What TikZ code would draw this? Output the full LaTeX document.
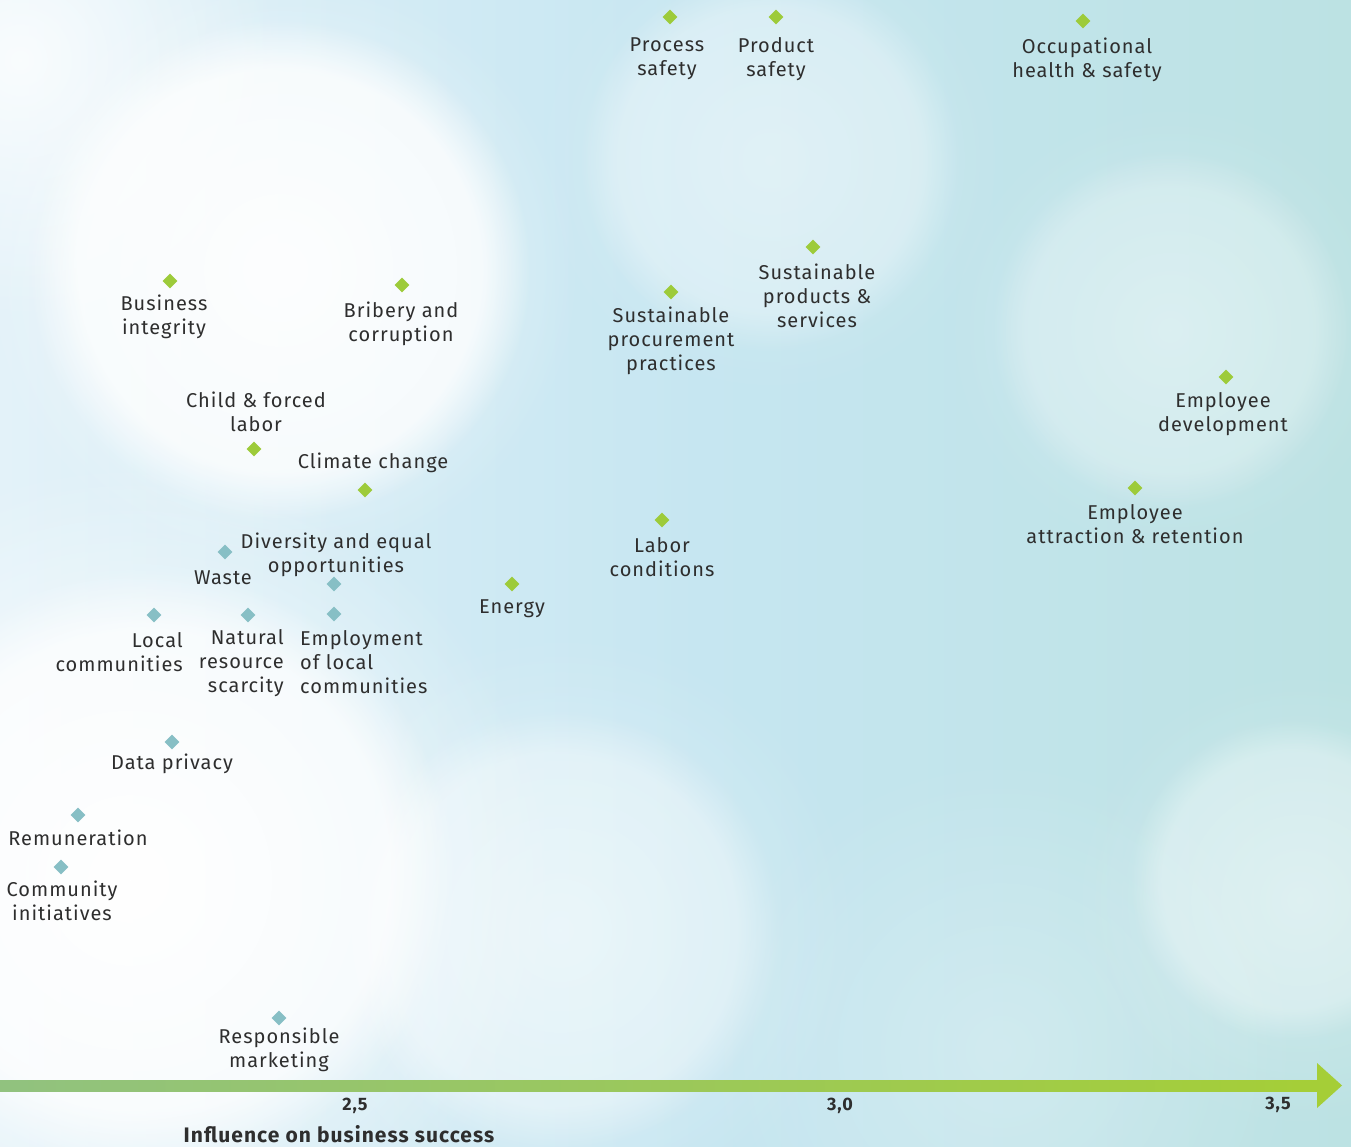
\documentclass[tikz,border=0pt]{standalone}
\usepackage{fontspec}
\setmainfont{Fira Sans}[LetterSpace=5]
\usetikzlibrary{shapes.geometric,fadings}
\definecolor{txt}{HTML}{2E2E2E}
\definecolor{gmk}{HTML}{9DCB3A}
\definecolor{bmk}{HTML}{87BFC5}
\definecolor{axL}{HTML}{91C27F}
\definecolor{axR}{HTML}{A5CE37}
\definecolor{bgL}{HTML}{E3F2F9}
\definecolor{bgM}{HTML}{C6E6F1}
\definecolor{bgR}{HTML}{BCE2E3}
\tikzfading[name=softc, inner color=transparent!0, outer color=transparent!100]
\tikzset{
  lbl/.style={font=\fontsize{20}{24}\selectfont, text=txt, align=center, inner sep=0pt},
  gd/.style={shape=diamond, fill=gmk, minimum width=15pt, minimum height=15pt, inner sep=0pt},
  bd/.style={shape=diamond, fill=bmk, minimum width=15pt, minimum height=15pt, inner sep=0pt},
  tick/.style={font=\bfseries\fontsize{18}{20}\selectfont, text=txt, inner sep=0pt},
  blob/.style={fill=white, path fading=softc},
  disc/.style={fill=white, path fading=circle with fuzzy edge 20 percent}
}
\begin{document}
\begin{tikzpicture}[x=1pt,y=-1pt]
\useasboundingbox (0,0) rectangle (1351,1146);
% background
\shade[left color=bgL, right color=bgM] (0,0) rectangle (700,1146);
\shade[left color=bgM, right color=bgR] (700,0) rectangle (1351,1146);
\fill[blob, opacity=0.8] (20,60) circle (260);
\fill[disc, opacity=0.75] (280,270) circle (250);
\fill[blob, opacity=0.8] (280,270) circle (300);
\fill[disc, opacity=0.7] (150,870) circle (300);
\fill[blob, opacity=1] (130,880) circle (420);
\fill[disc, opacity=0.3] (770,160) circle (190);
\fill[blob, opacity=0.25] (770,160) circle (240);
\fill[disc, opacity=0.25] (1170,330) circle (180);
\fill[blob, opacity=0.25] (1170,330) circle (230);
\fill[disc, opacity=0.35] (560,930) circle (220);
\fill[blob, opacity=0.4] (560,930) circle (300);
\fill[blob, opacity=0.25] (1000,1050) circle (300);
\fill[disc, opacity=0.3] (1290,880) circle (160);
\fill[blob, opacity=0.3] (1300,900) circle (230);
% markers and labels
\node[gd] (m1) at (670,17) {};
\node[lbl] (t1) at (667,59) {Process\\safety};
\node[gd] (m2) at (776,17) {};
\node[lbl] (t2) at (776,59) {Product\\safety};
\node[gd] (m3) at (1083,21) {};
\node[lbl] (t3) at (1087,60) {Occupational\\health \& safety};
\node[gd] (m4) at (813,247) {};
\node[lbl] (t4) at (817,296) {Sustainable\\products \&\\services};
\node[gd] (m5) at (170,281) {};
\node[lbl] (t5) at (164,317) {Business\\integrity};
\node[gd] (m6) at (402,285) {};
\node[lbl] (t6) at (401,324) {Bribery and\\corruption};
\node[gd] (m7) at (671,292) {};
\node[lbl] (t7) at (671,341) {Sustainable\\procurement\\practices};
\node[gd] (m8) at (1226,377) {};
\node[lbl] (t8) at (1223,414) {Employee\\development};
\node[lbl] (t9) at (256,412) {Child \& forced\\labor};
\node[gd] (m9) at (254,449) {};
\node[lbl] (t10) at (373,463) {Climate change};
\node[gd] (m10) at (365,490) {};
\node[gd] (m11) at (1135,488) {};
\node[lbl] (t11) at (1135,524) {Employee\\attraction \& retention};
\node[gd] (m12) at (662,520) {};
\node[lbl] (t12) at (662,557) {Labor\\conditions};
\node[lbl] (t13) at (336,555) {Diversity and equal\\opportunities};
\node[bd] (m13) at (334,584) {};
\node[bd] (m14) at (225,552) {};
\node[lbl] (t14) at (223,578) {Waste};
\node[gd] (m15) at (512,584) {};
\node[lbl] (t15) at (512,609) {Energy};
\node[bd] (m16) at (154,615) {};
\node[lbl, align=right, anchor=east] (t16) at (183,652) {Local\\communities};
\node[bd] (m17) at (248,615) {};
\node[lbl, align=right, anchor=east] (t17) at (284,663) {Natural\\resource\\scarcity};
\node[bd] (m18) at (334,614) {};
\node[lbl, align=left, anchor=west] (t18) at (300,662) {Employment\\of local\\communities};
\node[bd] (m19) at (172,742) {};
\node[lbl] (t19) at (172,764) {Data privacy};
\node[bd] (m20) at (78,815) {};
\node[lbl] (t20) at (78,838) {Remuneration};
\node[bd] (m21) at (61,867) {};
\node[lbl] (t21) at (62,901) {Community\\initiatives};
\node[bd] (m22) at (279,1018) {};
\node[lbl] (t22) at (279,1050) {Responsible\\marketing};
% axis
\shade[left color=axL, right color=axR] (0,1080) rectangle (1319,1091);
\fill[axR] (1317,1063) -- (1342,1085.5) -- (1317,1108) -- cycle;
\node[tick] (k1) at (355,1106) {2,5};
\node[tick] (k2) at (840,1106) {3,0};
\node[tick] (k3) at (1278,1105) {3,5};
\node[font=\bfseries\fontsize{21}{24}\selectfont, text=txt, inner sep=0pt] (ax) at (339,1134) {Influence on business success};
\end{tikzpicture}
\end{document}
